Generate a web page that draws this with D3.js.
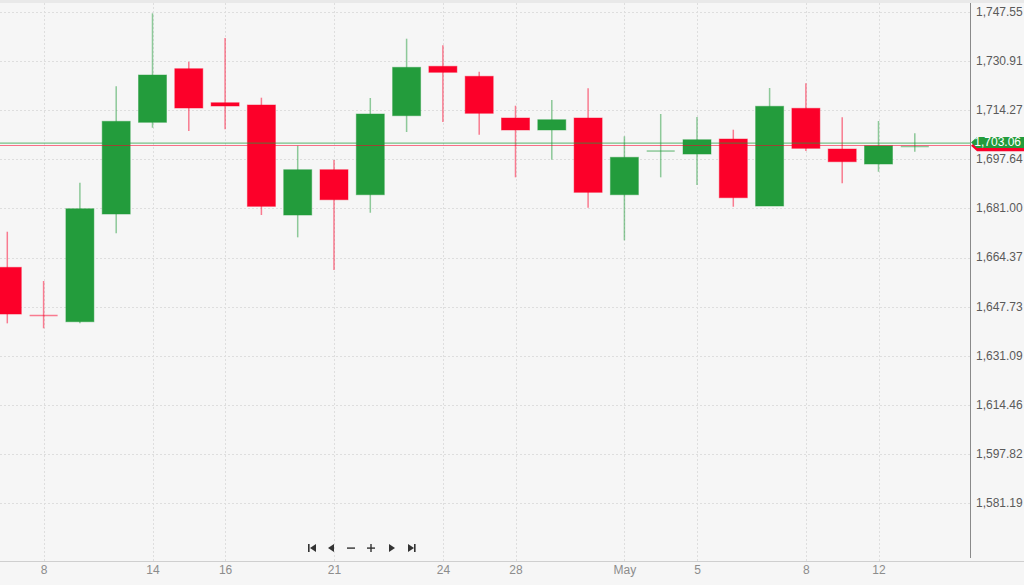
<!DOCTYPE html>
<html>
<head>
<meta charset="utf-8">
<script src="https://cdn.jsdelivr.net/npm/d3@7/dist/d3.min.js"></script>
<style>
  html, body { margin: 0; padding: 0; background: #f6f6f6; }
  svg { display: block; }
  text { font-family: "Liberation Sans", Arial, sans-serif; }
</style>
</head>
<body>
<svg id="chart" width="1024" height="585"></svg>
<script>
// ---- data ----
const openV  = [1661.05,1644.9,1642.64,1679.09,1710.12,1728.26,1716.75,1715.98,1678.75,1694.08,1685.62,1712.36,1729.07,1725.69,1711.58,1707.52,1711.58,1685.62,1700.3,1699.39,1704.47,1681.80,1714.86,1701.09,1696.01,1701.66];
const highV  = [1673.10,1656.42,1689.68,1722.30,1747.0,1730.63,1738.65,1718.45,1702.20,1697.36,1718.35,1738.41,1736.18,1727.25,1715.74,1717.67,1721.63,1705.38,1712.93,1711.92,1707.62,1721.73,1723.32,1711.81,1710.56,1706.40];
const lowV   = [1642.10,1640.41,1642.10,1672.56,1708.29,1707.18,1707.75,1678.75,1671.20,1660.14,1679.53,1706.84,1710.22,1705.93,1691.51,1697.47,1681.22,1670.19,1691.51,1688.90,1681.56,1681.80,1700.41,1689.48,1693.40,1700.17];
const closeV = [1645.25,1644.6,1680.88,1710.46,1726.13,1714.96,1715.64,1681.69,1694.08,1683.93,1712.93,1728.73,1727.04,1713.17,1707.52,1711.00,1686.43,1698.28,1700.5,1704.23,1684.61,1715.54,1701.32,1696.79,1702.20,1702.20];
const tickIndex  = [1,4,6,9,12,14,17,19,22,24];
const tickLabels = ["8","14","16","21","24","28","May","5","8","12"];
const yTicks = [1747.55,1730.91,1714.27,1697.64,1681.00,1664.37,1647.73,1631.09,1614.46,1597.82,1581.19];
const askPrice = 1703.06;
const bidPrice = 1702.27;

const GREEN = "#239c3c", RED = "#fc0029";

const svg = d3.select("#chart");
const plotRight = 970, plotBottom = 561;

const x = d3.scaleLinear().domain([0, 25]).range([7.3, 914.8]);
const y = d3.scaleLinear().domain([1647.73, 1747.55]).range([306.7, 11.7]);

// top strip
svg.append("rect").attr("x",0).attr("y",0).attr("width",1024).attr("height",3).attr("fill","#e9e9e9");

// grid
const gy = svg.append("g");
yTicks.forEach(v => {
  gy.append("line").attr("x1",0).attr("x2",plotRight).attr("y1",Math.round(y(v))+0.5).attr("y2",Math.round(y(v))+0.5)
    .attr("stroke","#dedede").attr("stroke-dasharray","2,2");
});
tickIndex.forEach(i => {
  gy.append("line").attr("y1",3).attr("y2",plotBottom).attr("x1",Math.round(x(i))+0.5).attr("x2",Math.round(x(i))+0.5)
    .attr("stroke","#dedede").attr("stroke-dasharray","2,2");
});

// candles
const idx = d3.range(openV.length);
const bw = 28;
const cg = svg.append("g");
idx.forEach(i => {
  const up = closeV[i] >= openV[i];
  const col = up ? GREEN : RED;
  const cx = x(i);
  cg.append("line").attr("x1",cx).attr("x2",cx).attr("y1",y(highV[i])).attr("y2",y(lowV[i]))
    .attr("stroke",col).attr("stroke-opacity",0.5).attr("stroke-width",1.5);
  const top = y(Math.max(openV[i],closeV[i])), bot = y(Math.min(openV[i],closeV[i]));
  const h = Math.max(bot-top, 1);
  if (h < 2.5) {
    cg.append("line").attr("x1",cx-bw/2).attr("x2",cx+bw/2).attr("y1",(top+bot)/2).attr("y2",(top+bot)/2)
      .attr("stroke",col).attr("stroke-opacity",0.5).attr("stroke-width",1.5);
  } else {
    cg.append("rect").attr("x",cx-bw/2).attr("y",top).attr("width",bw).attr("height",h)
      .attr("fill",col).attr("stroke",col).attr("stroke-opacity",0.45).attr("stroke-width",1);
  }
});

// price lines
svg.append("line").attr("x1",0).attr("x2",plotRight).attr("y1",y(bidPrice)).attr("y2",y(bidPrice))
  .attr("stroke",RED).attr("stroke-opacity",0.55).attr("stroke-width",1.2);
svg.append("line").attr("x1",0).attr("x2",plotRight).attr("y1",y(askPrice)).attr("y2",y(askPrice))
  .attr("stroke",GREEN).attr("stroke-opacity",0.6).attr("stroke-width",1.2);

// axes lines
svg.append("line").attr("x1",0).attr("x2",1024).attr("y1",plotBottom+0.5).attr("y2",plotBottom+0.5).attr("stroke","#cfcfcf");
svg.append("line").attr("x1",plotRight+0.5).attr("x2",plotRight+0.5).attr("y1",3).attr("y2",plotBottom-3).attr("stroke","#8a8a8a");

// right axis labels via d3 axis
const yAxis = d3.axisRight(y).tickValues(yTicks).tickSize(0).tickPadding(6)
  .tickFormat(d3.format(",.2f"));
const ya = svg.append("g").attr("transform",`translate(${plotRight},-0.5)`).call(yAxis);
ya.select(".domain").remove();
ya.selectAll("text").attr("fill","#5a5a5a").style("font-size","12px").style("font-family","'Liberation Sans', Arial, sans-serif");

// bottom axis labels
const xAxis = d3.axisBottom(x).tickValues(tickIndex).tickSize(0).tickPadding(4)
  .tickFormat((d,k) => tickLabels[k]);
const xa = svg.append("g").attr("transform",`translate(0,${plotBottom})`).call(xAxis);
xa.select(".domain").remove();
xa.selectAll("text").attr("fill","#8c8c8c").style("font-size","12px").style("font-family","'Liberation Sans', Arial, sans-serif");

// price labels
function priceTag(cy, col, txt) {
  const g = svg.append("g");
  g.append("path").attr("d",`M${plotRight+1},${cy} L${plotRight+7},${cy-5.5} L1024,${cy-5.5} L1024,${cy+5.5} L${plotRight+7},${cy+5.5} Z`)
    .attr("fill",col);
  if (txt) g.append("text").attr("x",1021).attr("y",cy+4).attr("text-anchor","end").attr("fill","#fff")
    .style("font-size","12px").text(txt);
}
priceTag(y(askPrice) + 2.5, RED, null);
priceTag(y(askPrice) - 0.8, GREEN, d3.format(",.2f")(askPrice));

// navigation buttons
const nav = svg.append("g").attr("fill","#333");
const ny = 548;
nav.append("rect").attr("x",308).attr("y",ny-4).attr("width",1.6).attr("height",8);
nav.append("path").attr("d",`M310,${ny} L316,${ny-4} L316,${ny+4} Z`);
nav.append("path").attr("d",`M328,${ny} L334,${ny-4} L334,${ny+4} Z`);
nav.append("rect").attr("x",347).attr("y",ny-0.6).attr("width",8).attr("height",1.4);
nav.append("rect").attr("x",367).attr("y",ny-0.6).attr("width",8).attr("height",1.4);
nav.append("rect").attr("x",370.3).attr("y",ny-4).attr("width",1.4).attr("height",8);
nav.append("path").attr("d",`M389,${ny-4} L395,${ny} L389,${ny+4} Z`);
nav.append("path").attr("d",`M408,${ny-4} L414,${ny} L408,${ny+4} Z`);
nav.append("rect").attr("x",414).attr("y",ny-4).attr("width",1.6).attr("height",8);
</script>
</body>
</html>
